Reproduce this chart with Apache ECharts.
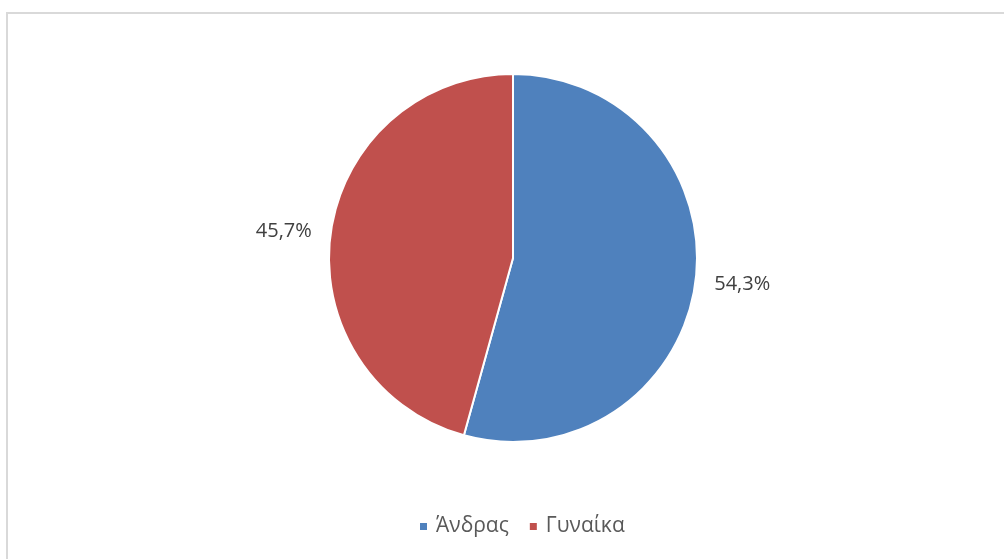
<!DOCTYPE html>
<html>
<head>
<meta charset="utf-8">
<script src="https://cdn.jsdelivr.net/npm/echarts@6/dist/echarts.min.js"></script>
<style>
html,body{margin:0;padding:0;background:#fff;}
#frame{position:absolute;left:6px;top:12px;width:1100px;height:700px;border-left:2px solid #d9d9d9;border-top:2px solid #d9d9d9;}
#chart{position:absolute;left:0;top:0;width:1004px;height:559px;}
</style>
</head>
<body>
<div id="frame"></div>
<div id="chart"></div>
<script>
const categories = ['Άνδρας', 'Γυναίκα'];
const values = [54.3, 45.7];
const colors = ['#4F81BD', '#C0504D'];

const chart = echarts.init(document.getElementById('chart'));
chart.setOption({
  animation: false,
  legend: {
    data: categories,
    top: 511,
    left: 413,
    icon: 'rect',
    itemWidth: 9,
    itemHeight: 9,
    itemGap: 19,
    textStyle: { fontFamily: 'Open Sans', fontSize: 21, color: '#595959', padding: [0, 0, 0, 3] }
  },
  series: [{
    type: 'pie',
    center: [513, 258],
    radius: [0, 184],
    startAngle: 90,
    clockwise: true,
    data: categories.map((c, i) => ({ name: c, value: values[i], itemStyle: { color: colors[i] } })),
    itemStyle: { borderColor: '#fff', borderWidth: 2 },
    label: {
      show: true,
      position: 'outside',
      formatter: p => p.value.toFixed(1).replace('.', ',') + '%',
      fontFamily: 'Open Sans',
      fontSize: 20,
      color: '#404040',
      padding: [7, 0, 0, 0],
      distanceToLabelLine: 5
    },
    labelLine: { show: false, length: 14, length2: 0 }
  }]
});
</script>
</body>
</html>
